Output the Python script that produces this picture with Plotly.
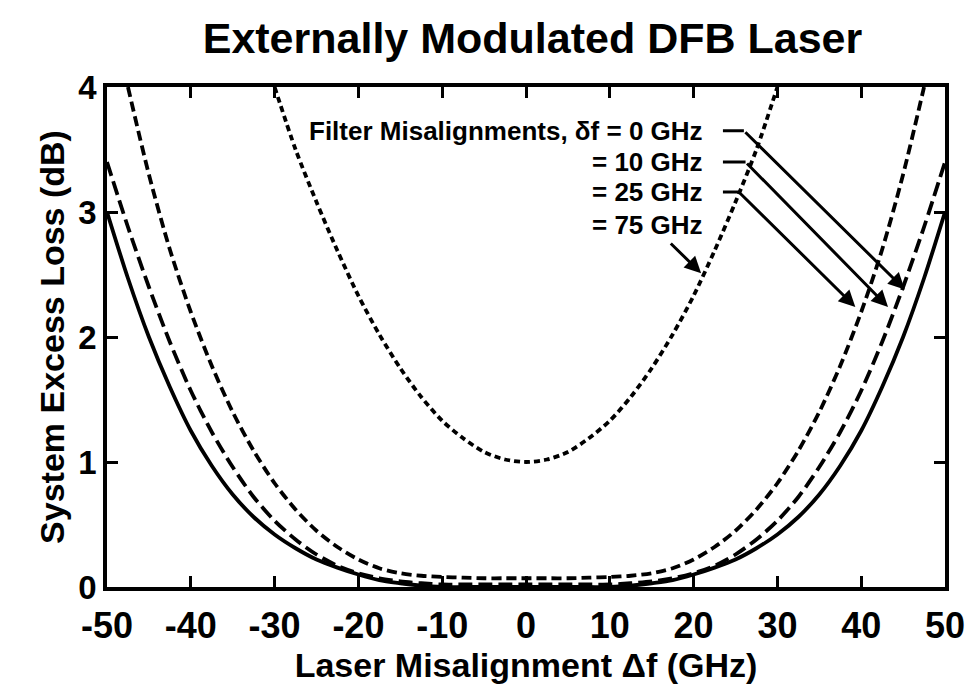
import plotly.graph_objects as go

# Laser misalignment grid (GHz)
x_grid = [-50, -47.5, -45, -42.5, -40, -37.5, -35, -32.5, -30, -27.5, -25, -22.5,
          -20, -17.5, -15, -12.5, -10, -7.5, -5, -2.5, 0, 2.5, 5, 7.5, 10, 12.5,
          15, 17.5, 20, 22.5, 25, 27.5, 30, 32.5, 35, 37.5, 40, 42.5, 45, 47.5, 50]

# System excess loss (dB) for each filter misalignment
loss_0ghz = [3.0, 2.47, 2.0, 1.6, 1.25, 0.97, 0.74, 0.56, 0.42, 0.31, 0.22, 0.155,
             0.1, 0.055, 0.03, 0.01, 0.0, 0.0, 0.0, 0.0, 0.0, 0.0, 0.0, 0.0, 0.0, 0.01,
             0.03, 0.055, 0.1, 0.155, 0.22, 0.31, 0.42, 0.56, 0.74, 0.97, 1.25, 1.6, 2.0, 2.47, 3.0]
loss_10ghz = [3.4, 2.88, 2.4, 1.96, 1.57, 1.24, 0.96, 0.72, 0.53, 0.38, 0.26, 0.17,
              0.11, 0.07, 0.045, 0.03, 0.02, 0.02, 0.02, 0.02, 0.02, 0.02, 0.02, 0.02, 0.02, 0.03,
              0.045, 0.07, 0.11, 0.17, 0.26, 0.38, 0.53, 0.72, 0.96, 1.24, 1.57, 1.96, 2.4, 2.88, 3.4]
x_25ghz = x_grid[1:-1]
loss_25ghz = [4.0, 3.3, 2.7, 2.2, 1.77, 1.4, 1.09, 0.83, 0.62, 0.45, 0.32,
              0.22, 0.15, 0.11, 0.09, 0.08, 0.075, 0.07, 0.07, 0.07, 0.07, 0.07, 0.075, 0.08, 0.09,
              0.11, 0.15, 0.22, 0.32, 0.45, 0.62, 0.83, 1.09, 1.4, 1.77, 2.2, 2.7, 3.3, 4.0]
x_75ghz = x_grid[8:-8]
loss_75ghz = [4.0, 3.5, 3.08, 2.69, 2.33, 2.02, 1.75, 1.52, 1.33, 1.19, 1.08, 1.02, 1.0,
              1.02, 1.08, 1.19, 1.33, 1.52, 1.75, 2.02, 2.33, 2.69, 3.08, 3.5, 4.0]

x_ticks = [-50, -40, -30, -20, -10, 0, 10, 20, 30, 40, 50]
y_ticks = [0, 1, 2, 3, 4]

FONT = "Liberation Sans"
INK = "black"

fig = go.Figure()

series = [
    (x_grid, loss_0ghz, "solid", "0 GHz"),
    (x_grid, loss_10ghz, "14px,6px", "10 GHz"),
    (x_25ghz, loss_25ghz, "10px,5px", "25 GHz"),
    (x_75ghz, loss_75ghz, "6px,4px", "75 GHz"),
]
for xs, ys, dash, name in series:
    fig.add_trace(go.Scatter(
        x=xs, y=ys, mode="lines", name=name,
        line=dict(color=INK, width=3.8, dash=dash, shape="spline", smoothing=0.8),
        showlegend=False, hoverinfo="skip",
    ))

# Curve labels
label_rows = [
    ("Filter Misalignments, δf = 0 GHz", 3.65),
    ("= 10 GHz", 3.40),
    ("= 25 GHz", 3.16),
    ("= 75 GHz", 2.90),
]
for text, ypos in label_rows:
    fig.add_annotation(
        x=21.4, y=ypos, xref="x", yref="y", text=f"<b>{text}</b>",
        showarrow=False, xanchor="right", yanchor="middle",
        font=dict(family=FONT, size=26, color=INK),
    )

# Leader lines: short horizontal stub then an arrow to the curve
leaders = [
    (23.5, 26.0, 3.65, 45.2, 2.38),
    (23.5, 26.2, 3.40, 43.2, 2.24),
    (23.5, 25.4, 3.16, 39.3, 2.24),
]
for x0, x1, y0, xt, yt in leaders:
    fig.add_shape(type="line", x0=x0, x1=x1, y0=y0, y1=y0, xref="x", yref="y",
                  line=dict(color=INK, width=3))
    fig.add_annotation(x=xt, y=yt, ax=x1, ay=y0, xref="x", yref="y",
                       axref="x", ayref="y", text="", showarrow=True,
                       arrowhead=2, arrowsize=1.1, arrowwidth=3, arrowcolor=INK)
fig.add_annotation(x=20.9, y=2.51, ax=17.1, ay=2.76, xref="x", yref="y",
                   axref="x", ayref="y", text="", showarrow=True,
                   arrowhead=2, arrowsize=1.1, arrowwidth=3, arrowcolor=INK)

axis_common = dict(
    showline=True, linecolor=INK, linewidth=3.5, mirror="ticks",
    ticks="inside", ticklen=11, tickwidth=2.5, tickcolor=INK,
    showgrid=False, zeroline=False,
)

fig.update_xaxes(
    range=[-50, 50], tickvals=x_ticks,
    ticktext=[f"<b>{v}</b>" for v in x_ticks],
    tickfont=dict(family=FONT, size=36, color=INK),
    ticklabelstandoff=4,
    title=dict(text="<b>Laser Misalignment Δf (GHz)</b>",
               font=dict(family=FONT, size=34, color=INK), standoff=0),
    **axis_common,
)
fig.update_yaxes(
    range=[0, 4], tickvals=y_ticks,
    ticktext=[f"<b>{v}</b>" for v in y_ticks],
    tickfont=dict(family=FONT, size=33, color=INK),
    title=dict(text="<b>System Excess Loss (dB)</b>",
               font=dict(family=FONT, size=34, color=INK), standoff=4),
    **axis_common,
)

fig.update_layout(
    width=977, height=688,
    margin=dict(l=107, r=27, t=87, b=101),
    paper_bgcolor="white", plot_bgcolor="white",
    title=dict(text="<b>Externally Modulated DFB Laser</b>",
               font=dict(family=FONT, size=43, color=INK),
               x=0.545, xanchor="center", y=0.945, yanchor="middle"),
)

fig.write_html("out.html")
